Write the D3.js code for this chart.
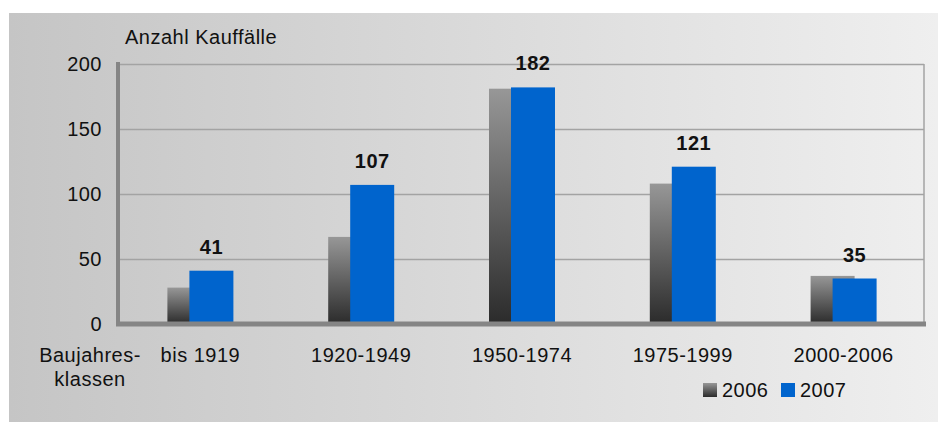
<!DOCTYPE html>
<html>
<head>
<meta charset="utf-8">
<script src="https://cdn.jsdelivr.net/npm/d3@7"></script>
<style>
  body { margin: 0; background: #fff; }
  svg { display: block; font-family: "Liberation Sans", Arial, sans-serif; letter-spacing: 0.5px; }
</style>
</head>
<body>
<svg id="chart" width="939" height="423"></svg>
<script>
// data
const categories = ['bis 1919', '1920-1949', '1950-1974', '1975-1999', '2000-2006'];
const series = ['2006', '2007'];
const values2006 = [28, 67, 181, 108, 37];
const values2007 = [41, 107, 182, 121, 35];
const yTicks = [0, 50, 100, 150, 200];

const svg = d3.select('#chart');
const defs = svg.append('defs');

const bg = defs.append('linearGradient').attr('id', 'bg').attr('x1', '0%').attr('x2', '100%').attr('y1', '0%').attr('y2', '0%');
bg.append('stop').attr('offset', '0%').attr('stop-color', '#c5c5c5');
bg.append('stop').attr('offset', '100%').attr('stop-color', '#efefef');

// vertical grey gradient for the 2006 bars
const grey = defs.append('linearGradient').attr('id', 'grey').attr('x1', '0%').attr('x2', '0%').attr('y1', '0%').attr('y2', '100%');
grey.append('stop').attr('offset', '0%').attr('stop-color', '#979797');
grey.append('stop').attr('offset', '100%').attr('stop-color', '#2b2b2b');

svg.append('rect')
  .attr('x', 9).attr('y', 13).attr('width', 929).attr('height', 409)
  .attr('fill', 'url(#bg)');

const plotL = 120, plotR = 924, plotT = 64, plotB = 324;

const x = d3.scaleBand().domain(categories).range([plotL, plotR]);
const y = d3.scaleLinear().domain([0, 200]).range([plotB, plotT]);

const barW = 44;
const step = 22; // 2007 bar overlaps half of the 2006 bar
const x0 = -(barW + step) / 2;

// gridlines + y labels
const yAxis = svg.append('g')
  .attr('transform', `translate(${plotL},0)`)
  .call(d3.axisLeft(y).tickValues(yTicks).tickSize(-(plotR - plotL)).tickPadding(18));
yAxis.select('.domain').remove();
yAxis.selectAll('line').attr('stroke', '#a3a3a3').attr('stroke-width', 1.5);
yAxis.selectAll('text').attr('font-size', 20).attr('fill', '#111');

// right border of plot
svg.append('line')
  .attr('x1', plotR).attr('x2', plotR).attr('y1', plotT).attr('y2', plotB)
  .attr('stroke', '#a3a3a3').attr('stroke-width', 1.5);

const groups = svg.append('g').selectAll('g')
  .data(categories)
  .join('g')
  .attr('transform', d => `translate(${x(d) + x.bandwidth() / 2},0)`);

groups.append('rect')
  .attr('x', x0)
  .attr('width', barW)
  .attr('y', (d, i) => y(values2006[i]))
  .attr('height', (d, i) => plotB - y(values2006[i]))
  .attr('fill', 'url(#grey)');

groups.append('rect')
  .attr('x', x0 + step)
  .attr('width', barW)
  .attr('y', (d, i) => y(values2007[i]))
  .attr('height', (d, i) => plotB - y(values2007[i]))
  .attr('fill', '#0064cd');

groups.append('text')
  .attr('x', x0 + step + barW / 2)
  .attr('y', (d, i) => y(values2007[i]) - 17)
  .attr('text-anchor', 'middle')
  .attr('font-size', 20)
  .attr('font-weight', 'bold')
  .attr('fill', '#111')
  .text((d, i) => values2007[i]);

// axis lines
svg.append('line')
  .attr('x1', plotL - 2).attr('x2', plotL - 2).attr('y1', plotT - 2).attr('y2', plotB + 2)
  .attr('stroke', '#858585').attr('stroke-width', 4);

const xAxis = svg.append('g')
  .attr('transform', `translate(0,${plotB})`)
  .call(d3.axisBottom(x).tickSize(0).tickPadding(24));
xAxis.select('.domain').remove();
xAxis.selectAll('text').attr('font-size', 20).attr('fill', '#111');

svg.append('line')
  .attr('x1', plotL - 4).attr('x2', plotR + 2).attr('y1', plotB).attr('y2', plotB)
  .attr('stroke', '#858585').attr('stroke-width', 5);

// axis titles
svg.append('text')
  .attr('x', 125).attr('y', 44)
  .attr('font-size', 20).attr('fill', '#111')
  .text('Anzahl Kauffälle');

const xt = svg.append('text')
  .attr('text-anchor', 'middle')
  .attr('font-size', 20).attr('fill', '#111');
xt.append('tspan').attr('x', 90).attr('y', 362).text('Baujahres-');
xt.append('tspan').attr('x', 90).attr('y', 386).text('klassen');

// legend
const legend = svg.append('g').selectAll('g')
  .data(series)
  .join('g')
  .attr('transform', (d, i) => `translate(${703 + i * 78},383)`);
legend.append('rect')
  .attr('width', 14).attr('height', 14)
  .attr('fill', (d, i) => i === 0 ? 'url(#grey)' : '#0064cd');
legend.append('text')
  .attr('x', 19).attr('y', 14)
  .attr('font-size', 20).attr('fill', '#111')
  .text(d => d);
</script>
</body>
</html>
